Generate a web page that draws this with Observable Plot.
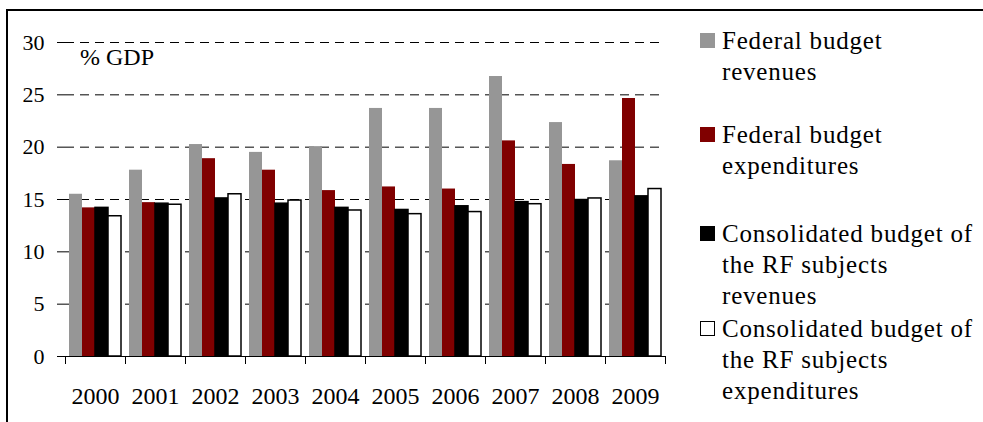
<!DOCTYPE html>
<html>
<head>
<meta charset="utf-8">
<script src="https://cdn.jsdelivr.net/npm/d3@7"></script>
<script src="https://cdn.jsdelivr.net/npm/@observablehq/plot@0.6"></script>
<style>
  html, body { margin: 0; padding: 0; background: #fff; }
  #wrap { position: relative; width: 983px; height: 422px; overflow: hidden;
          font-family: "Liberation Serif", Tinos, "Times New Roman", Times, "DejaVu Serif", serif; color: #000; }
  #frame { position: absolute; left: 6px; top: 9px; width: 1000px; height: 500px;
           border-left: 2px solid #000; border-top: 2px solid #000; pointer-events: none; }
  #chart { position: absolute; left: 0; top: 0; }
  #unit { position: absolute; left: 80px; top: 45px; font-size: 24px; line-height: 24px; white-space: nowrap; }
  .item { position: absolute; left: 700px; font-size: 25px; line-height: 31px; letter-spacing: 0.8px; white-space: nowrap; }
  .item .sw { position: absolute; left: 0; top: 8px; width: 15px; height: 15px; box-sizing: border-box; }
  .item .tx { margin-left: 22px; }
</style>
</head>
<body>
<div id="wrap">
  <div id="chart"></div>
  <div id="unit"></div>
  <div id="legend"></div>
  <div id="frame"></div>
</div>
<script>
// ---- data ----
const years = ["2000","2001","2002","2003","2004","2005","2006","2007","2008","2009"];
const fedRevenues   = [15.5, 17.8, 20.25, 19.5, 20.05, 23.7, 23.7, 26.75, 22.35, 18.7];
const fedExpenditures = [14.2, 14.7, 18.9, 17.8, 15.85, 16.2, 16.0, 20.6, 18.35, 24.65];
const consRevenues  = [14.2, 14.6, 15.1, 14.6, 14.2, 14.0, 14.35, 14.75, 14.95, 15.3];
const consExpenditures = [13.4, 14.5, 15.5, 14.9, 13.95, 13.6, 13.8, 14.55, 15.1, 16.0];
const seriesNames = [
  "Federal budget revenues",
  "Federal budget expenditures",
  "Consolidated budget of the RF subjects revenues",
  "Consolidated budget of the RF subjects expenditures"
];
const legendLines = [
  ["Federal budget", "revenues"],
  ["Federal budget", "expenditures"],
  ["Consolidated budget of", "the RF subjects", "revenues"],
  ["Consolidated budget of", "the RF subjects", "expenditures"]
];
const yTicks = [0, 5, 10, 15, 20, 25, 30];
const unitLabel = "% GDP";

// ---- styles ----
const fontStack = '"Liberation Serif", Tinos, "Times New Roman", Times, "DejaVu Serif", serif';
const seriesColors = ["#969696", "#800000", "#000000", "#ffffff"];
const outlinedSeries = new Set([seriesNames[2], seriesNames[3]]);
const legendTops = [25, 119, 218, 313];

const seriesValues = [fedRevenues, fedExpenditures, consRevenues, consExpenditures];
const rows = years.flatMap((yr, i) =>
  seriesNames.map((s, j) => ({year: yr, series: s, value: seriesValues[j][i]})));

const chart = Plot.plot({
  width: 983, height: 422,
  marginLeft: 65, marginRight: 318, marginTop: 42, marginBottom: 66,
  style: {background: "transparent", fontFamily: fontStack, color: "#000", overflow: "visible"},
  fx: {domain: years, padding: 0, axis: null, label: null},
  x: {domain: seriesNames, paddingInner: 0, paddingOuter: 0.3, axis: null},
  y: {domain: [0, 30], axis: null},
  color: {domain: seriesNames, range: seriesColors},
  marks: [
    Plot.gridY(yTicks.filter(t => t > 0), {stroke: "#000", strokeOpacity: 1, strokeDasharray: "9,6"}),
    Plot.barY(rows, {filter: d => !outlinedSeries.has(d.series), fx: "year", x: "series", y: "value", fill: "series"}),
    Plot.barY(rows, {filter: d => outlinedSeries.has(d.series), fx: "year", x: "series", y: "value", fill: "series", stroke: "#000", strokeWidth: 1.5}),
    Plot.ruleY([0], {stroke: "#000"}),
    Plot.axisY({ticks: yTicks, anchor: "left", tickSize: 8, tickPadding: 13, fontSize: 22, line: true, label: null}),
    Plot.axisFx({anchor: "bottom", tickSize: 0, tickPadding: 30, fontSize: 24, label: null}),
    Plot.axisFx({anchor: "bottom", tickSize: 8, text: null, dx: -30, label: null}),
    Plot.axisFx({anchor: "bottom", ticks: [years[years.length - 1]], tickSize: 8, text: null, dx: 30, label: null})
  ]
});
document.getElementById("chart").append(chart);

document.getElementById("unit").textContent = unitLabel;

const legend = document.getElementById("legend");
seriesNames.forEach((s, i) => {
  const item = document.createElement("div");
  item.className = "item";
  item.style.top = legendTops[i] + "px";
  const sw = document.createElement("span");
  sw.className = "sw";
  sw.style.background = seriesColors[i];
  if (outlinedSeries.has(s) && seriesColors[i] === "#ffffff") sw.style.border = "1.5px solid #000";
  item.append(sw);
  legendLines[i].forEach(line => {
    const t = document.createElement("div");
    t.className = "tx";
    t.textContent = line;
    item.append(t);
  });
  legend.append(item);
});
</script>
</body>
</html>
